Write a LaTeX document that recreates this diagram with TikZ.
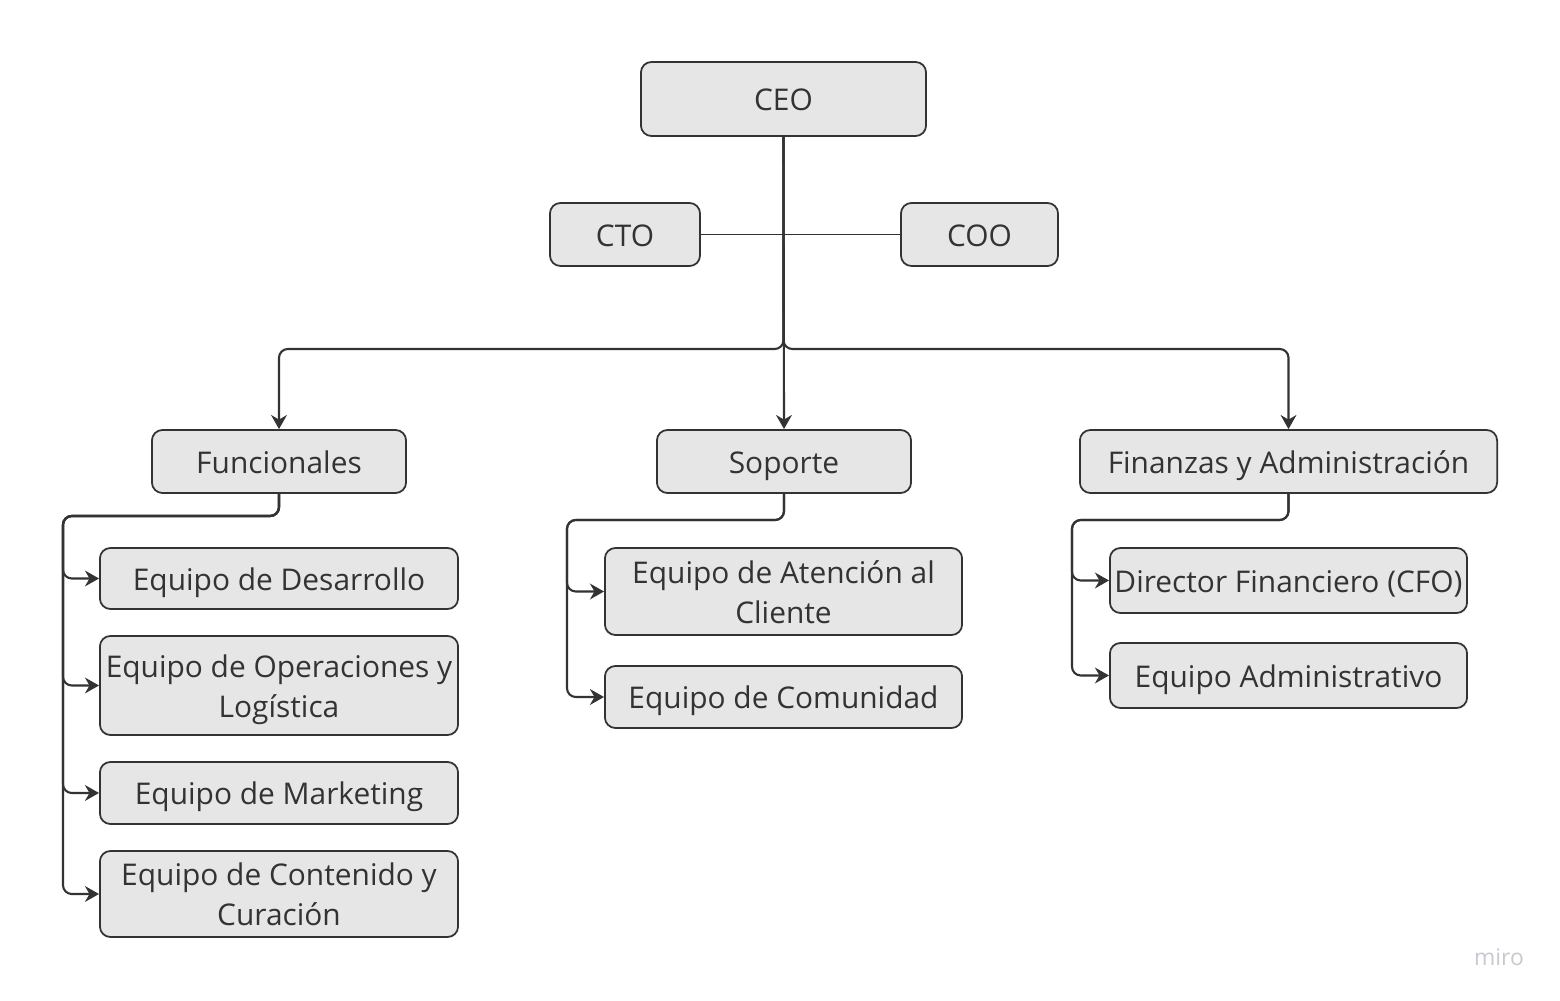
\documentclass[tikz,border=0pt]{standalone}
\usepackage{fontspec}
\setmainfont{Open Sans}
\usetikzlibrary{arrows.meta}
\definecolor{boxfill}{HTML}{E6E6E6}
\definecolor{boxline}{HTML}{333333}
\definecolor{markgray}{HTML}{C8C8D0}
\newcommand\boxstrut{\rule[-2.3pt]{0pt}{11.4pt}}
\newcommand\topstrut{\rule{0pt}{9.1pt}}
\begin{document}
\begin{tikzpicture}[x=0.01cm,y=-0.01cm,
    box/.style={draw=boxline,fill=boxfill,rounded corners=3pt,line width=0.5pt,
      align=center,inner sep=0pt,text=boxline,font=\fontsize{8.5}{11.4}\selectfont,
      execute at begin node=\boxstrut,execute at end node=\boxstrut},
    link/.style={draw=boxline,line width=0.6pt,rounded corners=2.5pt},
    arr/.style={link,-{Stealth[length=4pt,width=4.5pt]}}]
  \useasboundingbox (0,0) rectangle (1560,1001);
  % top level
  \node[box,minimum width=2.85cm,minimum height=0.74cm] (ceo) at (783.5,99) {CEO};
  \node[box,minimum width=1.50cm,minimum height=0.63cm] (cto) at (625,234.5) {CTO};
  \node[box,minimum width=1.57cm,minimum height=0.63cm] (coo) at (979.5,234.5) {COO};
  % areas
  \node[box,minimum width=2.54cm,minimum height=0.63cm] (funcionales) at (279,461.5) {Funcionales};
  \node[box,minimum width=2.54cm,minimum height=0.63cm] (soporte) at (784,461.5) {Soporte};
  \node[box,minimum width=4.17cm,minimum height=0.63cm] (finanzas) at (1288.5,461.5) {Finanzas y Administración};
  % equipos
  \node[box,minimum width=3.58cm,minimum height=0.61cm] (desarrollo) at (279,578.5) {Equipo de Desarrollo};
  \node[box,minimum width=3.58cm,minimum height=0.99cm] (operaciones) at (279,685.5) {\topstrut Equipo de Operaciones y\\Logística};
  \node[box,minimum width=3.58cm,minimum height=0.62cm] (marketing) at (279,793) {Equipo de Marketing};
  \node[box,minimum width=3.58cm,minimum height=0.86cm] (contenido) at (279,894) {\topstrut Equipo de Contenido y\\Curación};
  \node[box,minimum width=3.57cm,minimum height=0.87cm] (atencion) at (783.5,591.5) {\topstrut Equipo de Atención al\\Cliente};
  \node[box,minimum width=3.57cm,minimum height=0.62cm] (comunidad) at (783.5,697) {Equipo de Comunidad};
  \node[box,minimum width=3.57cm,minimum height=0.65cm] (cfo) at (1288.5,580.5) {Director Financiero (CFO)};
  \node[box,minimum width=3.57cm,minimum height=0.65cm] (administrativo) at (1288.5,675.5) {Equipo Administrativo};
  \node[text=markgray,font=\fontsize{6.5}{8}\selectfont] (miro) at (1499,957) {miro};

  \coordinate (split) at (783.5,349);
  \coordinate (fbus) at (63,516);
  \coordinate (sbus) at (567,520);
  \coordinate (abus) at (1072,520);

  \begin{scope}[link]
    \draw[line width=0.4pt] (cto) -- (coo);
    \draw[arr] (ceo.south) -- (split) -| (funcionales.north);
    \draw[arr] (ceo.south) -- (soporte.north);
    \draw[arr] (ceo.south) -- (split) -| (finanzas.north);
    \draw[arr] (funcionales.south) |- (fbus) |- (desarrollo.west);
    \draw[arr] (funcionales.south) |- (fbus) |- (operaciones.west);
    \draw[arr] (funcionales.south) |- (fbus) |- (marketing.west);
    \draw[arr] (funcionales.south) |- (fbus) |- (contenido.west);
    \draw[arr] (soporte.south) |- (sbus) |- (atencion.west);
    \draw[arr] (soporte.south) |- (sbus) |- (comunidad.west);
    \draw[arr] (finanzas.south) |- (abus) |- (cfo.west);
    \draw[arr] (finanzas.south) |- (abus) |- (administrativo.west);
  \end{scope}
\end{tikzpicture}
\end{document}
